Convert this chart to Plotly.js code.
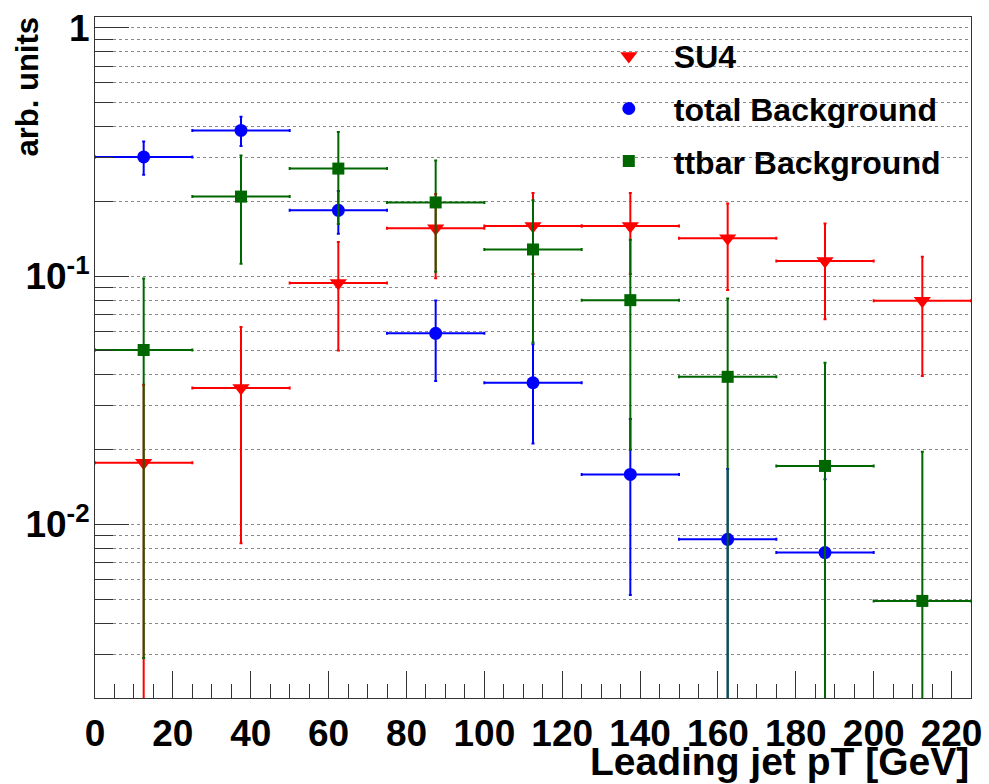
<!DOCTYPE html>
<html>
<head>
<meta charset="utf-8">
<script src="https://cdn.plot.ly/plotly-3.0.1.min.js"></script>
<style>html,body{margin:0;padding:0;background:#fff;}#chart{width:989px;height:784px;}</style>
</head>
<body>
<div id="chart"></div>
<script>
// Bin centres (GeV) and half-widths
const binCenters = [12.5, 37.5, 62.5, 87.5, 112.5, 137.5, 162.5, 187.5, 212.5];
const binHalfWidth = [12.5, 12.5, 12.5, 12.5, 12.5, 12.5, 12.5, 12.5, 12.5];

// SU4 signal
const su4Values = [0.0177, 0.0354, 0.0937, 0.156, 0.159, 0.159, 0.142, 0.115, 0.0796];
const su4Errors = [0.0188, 0.027, 0.0435, 0.058, 0.057, 0.057, 0.054, 0.048, 0.040];

// total Background
const totalBgValues = [0.302, 0.386, 0.184, 0.0588, 0.0372, 0.0159, 0.00871, 0.0077, null];
const totalBgErrors = [0.046, 0.052, 0.036, 0.021, 0.016, 0.0107, 0.008, 0.0075, null];

// ttbar Background
const ttbarValues = [0.0504, 0.209, 0.271, 0.198, 0.128, 0.080, 0.0393, 0.0172, 0.00492];
const ttbarErrors = [0.0475, 0.097, 0.109, 0.094, 0.074, 0.060, 0.042, 0.0276, 0.0147];

const seriesNames = ["SU4", "total Background", "ttbar Background"];

// Axis ticks
const xTickVals = [0, 20, 40, 60, 80, 100, 120, 140, 160, 180, 200, 220];
const yMajorVals = [0.01, 0.1, 1];
const yMajorText = ["10<sup>-2</sup>", "10<sup>-1</sup>", "1"];
const yMinorVals = [0.002, 0.003, 0.004, 0.005, 0.006, 0.007, 0.008, 0.009,
                    0.02, 0.03, 0.04, 0.05, 0.06, 0.07, 0.08, 0.09,
                    0.2, 0.3, 0.4, 0.5, 0.6, 0.7, 0.8, 0.9];

const FONT = "Liberation Sans, Arial, sans-serif";

function makeTrace(name, vals, errs, color, symbol, size, lg) {
  return {
    type: "scatter", mode: "markers", name: name,
    x: binCenters, y: vals,
    legendgroup: lg,
    marker: {color: color, symbol: symbol, size: size, line: {width: 0}},
    error_x: {type: "data", array: binHalfWidth, symmetric: true, color: color, thickness: 2, width: 1.5},
    error_y: {type: "data", array: errs, symmetric: true, color: color, thickness: 2, width: 1.5},
    cliponaxis: true
  };
}

const traces = [
  makeTrace(seriesNames[0], su4Values, su4Errors, "#ff0000", "triangle-down", 15, "a"),
  makeTrace(seriesNames[1], totalBgValues, totalBgErrors, "#0000ff", "circle", 13, "b"),
  makeTrace(seriesNames[2], ttbarValues, ttbarErrors, "#006600", "square", 12, "c"),
  // invisible trace to host minor-tick overlay axis
  {type: "scatter", mode: "markers", x: [], y: [], yaxis: "y2", showlegend: false, hoverinfo: "skip"}
];

const yRange = [Math.log10(0.002), Math.log10(1.105)];

const layout = {
  width: 989, height: 784,
  margin: {l: 95, r: 18, t: 17, b: 86},
  paper_bgcolor: "#fff", plot_bgcolor: "#fff",
  font: {family: FONT, color: "#000"},
  showlegend: true,
  legend: {
    x: 0.558, y: 0.983, xanchor: "left", yanchor: "top",
    font: {family: FONT, size: 32, weight: "bold", color: "#000"},
    bgcolor: "rgba(0,0,0,0)", borderwidth: 0,
    traceorder: "grouped", tracegroupgap: 8, itemwidth: 80
  },
  xaxis: {
    range: [0, 225], tickmode: "array", tickvals: xTickVals,
    ticks: "inside", ticklen: 27, tickcolor: "#333", tickwidth: 1,
    minor: {dtick: 5, tick0: 0, ticks: "inside", ticklen: 14, tickcolor: "#333", tickwidth: 1, showgrid: false},
    showgrid: false, zeroline: false,
    showline: true, linecolor: "#333", linewidth: 1, mirror: true,
    tickfont: {family: FONT, size: 37, weight: "bold", color: "#000"},
    ticklabelstandoff: 3
  },
  yaxis: {
    type: "log", range: yRange,
    tickmode: "array", tickvals: yMajorVals, ticktext: yMajorText,
    ticks: "inside", ticklen: 34, tickcolor: "#333", tickwidth: 1,
    showgrid: true, gridcolor: "#888", griddash: "dot", gridwidth: 1,
    zeroline: false,
    showline: true, linecolor: "#333", linewidth: 1, mirror: true,
    tickfont: {family: FONT, size: 37, weight: "bold", color: "#000"},
    ticklabelstandoff: -3
  },
  yaxis2: {
    type: "log", range: yRange, overlaying: "y", side: "left",
    tickmode: "array", tickvals: yMinorVals, showticklabels: false,
    ticks: "inside", ticklen: 18, tickcolor: "#333", tickwidth: 1,
    showgrid: true, gridcolor: "#888", griddash: "dot", gridwidth: 1,
    zeroline: false, showline: false
  },
  annotations: [
    {text: "arb. units", xref: "paper", yref: "paper", x: -0.077, y: 1.003,
     xanchor: "center", yanchor: "top", textangle: -90, showarrow: false,
     font: {family: FONT, size: 31, weight: "bold", color: "#000"}},
    {text: "Leading jet pT [GeV]", xref: "paper", yref: "paper", x: 1.0, y: -0.093,
     xanchor: "right", yanchor: "middle", showarrow: false,
     font: {family: FONT, size: 39, weight: "bold", color: "#000"}}
  ]
};

Plotly.newPlot("chart", traces, layout, {staticPlot: true, displayModeBar: false});
</script>
</body>
</html>
